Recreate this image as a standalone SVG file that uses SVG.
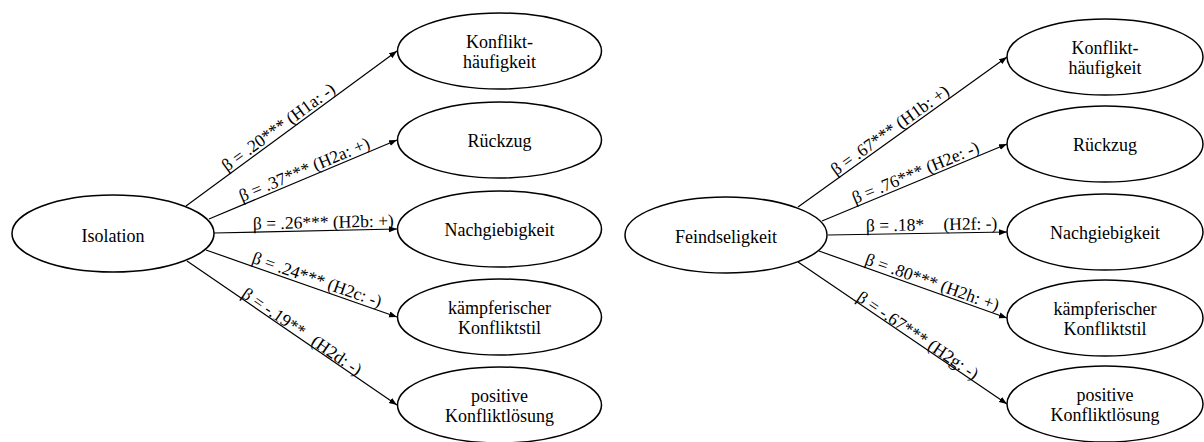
<svg xmlns="http://www.w3.org/2000/svg" width="1204" height="442" viewBox="0 0 1204 442">
<style>
.node ellipse{fill:#fff;stroke:#000;stroke-width:1.5}
.node text{font-size:18px;fill:#000;text-anchor:middle}
.edge line{stroke:#000;stroke-width:1.2;marker-end:url(#arr)}
.lbl{font-size:17.5px;fill:#000}
</style>
<defs>
<marker id="arr" markerUnits="userSpaceOnUse" markerWidth="9" markerHeight="7" refX="8" refY="3" orient="auto">
<path d="M0,0 L8,3 L0,6 z" fill="#000"/>
</marker>
</defs>
<rect width="1204" height="442" fill="#fff"/>
<g id="diagram" font-family="'Liberation Serif', 'Times New Roman', 'DejaVu Serif', serif">
<g id="connectors">
<g class="edge">
<line x1="186" y1="206" x2="397" y2="51"/>
<line x1="209" y1="219" x2="397" y2="140"/>
<line x1="214" y1="233" x2="397" y2="229"/>
<line x1="206" y1="250" x2="397" y2="317"/>
<line x1="187" y1="261" x2="397" y2="405"/>
<line x1="798" y1="207" x2="1007" y2="57"/>
<line x1="822" y1="221" x2="1007" y2="144"/>
<line x1="828" y1="235" x2="1007" y2="232"/>
<line x1="819" y1="251" x2="1007" y2="318"/>
<line x1="798" y1="262" x2="1007" y2="404"/>
</g>
<text class="lbl" font-family="Liberation Serif, serif" transform="translate(227,172) rotate(-36.3)">β = .20*** (H1a: -)</text>
<text class="lbl" font-family="Liberation Serif, serif" transform="translate(242,202) rotate(-22.8)">β = .37*** (H2a: +)</text>
<text class="lbl" font-family="Liberation Serif, serif" transform="translate(253,229.5) rotate(-1.25)">β = .26*** (H2b: +)</text>
<text class="lbl" font-family="Liberation Serif, serif" transform="translate(251,262.6) rotate(19.3)">β = .24*** (H2c: -)</text>
<text class="lbl" font-family="Liberation Serif, serif" transform="translate(240.6,296.5) rotate(34.4)">β = -.19** <tspan dx="7">(H2d: -)</tspan></text>
<text class="lbl" font-family="Liberation Serif, serif" transform="translate(836,176) rotate(-35.7)">β = .67*** (H1b: +)</text>
<text class="lbl" font-family="Liberation Serif, serif" transform="translate(855,204) rotate(-22.6)">β = .76*** (H2e: -)</text>
<text class="lbl" font-family="Liberation Serif, serif" transform="translate(866,231.4) rotate(-0.97)">β = .18* <tspan dx="15">(H2f: -)</tspan></text>
<text class="lbl" font-family="Liberation Serif, serif" transform="translate(864,264) rotate(19.6)">β = .80*** (H2h: +)</text>
<text class="lbl" font-family="Liberation Serif, serif" transform="translate(855.6,300) rotate(34.2)">β = -.67*** (H2g: -)</text>
</g>
<g id="isolation" class="node"><ellipse cx="113" cy="233.5" rx="101" ry="38.5"/><text x="113" y="242">Isolation</text></g>
<g id="l-konflikthaeufigkeit" class="node"><ellipse cx="499.5" cy="51" rx="102" ry="38"/><text x="499.5" y="47.5">Konflikt-</text><text x="499.5" y="68">häufigkeit</text></g>
<g id="l-rueckzug" class="node"><ellipse cx="499.5" cy="140" rx="102" ry="38"/><text x="499.5" y="147">Rückzug</text></g>
<g id="l-nachgiebigkeit" class="node"><ellipse cx="499.5" cy="229" rx="102" ry="38"/><text x="499.5" y="236">Nachgiebigkeit</text></g>
<g id="l-kaempferisch" class="node"><ellipse cx="499.5" cy="317" rx="102" ry="38"/><text x="499.5" y="313.5">kämpferischer</text><text x="499.5" y="334">Konfliktstil</text></g>
<g id="l-positiv" class="node"><ellipse cx="499.5" cy="405" rx="102" ry="38"/><text x="499.5" y="401.5">positive</text><text x="499.5" y="422">Konfliktlösung</text></g>
<g id="feindseligkeit" class="node"><ellipse cx="726" cy="235" rx="101" ry="38"/><text x="726" y="243">Feindseligkeit</text></g>
<g id="r-konflikthaeufigkeit" class="node"><ellipse cx="1105" cy="57" rx="98" ry="38"/><text x="1105" y="53.5">Konflikt-</text><text x="1105" y="74">häufigkeit</text></g>
<g id="r-rueckzug" class="node"><ellipse cx="1105" cy="144" rx="98" ry="38"/><text x="1105" y="151">Rückzug</text></g>
<g id="r-nachgiebigkeit" class="node"><ellipse cx="1105" cy="232" rx="98" ry="38"/><text x="1105" y="239">Nachgiebigkeit</text></g>
<g id="r-kaempferisch" class="node"><ellipse cx="1105" cy="318" rx="98" ry="38"/><text x="1105" y="314.5">kämpferischer</text><text x="1105" y="335">Konfliktstil</text></g>
<g id="r-positiv" class="node"><ellipse cx="1105" cy="404" rx="98" ry="38"/><text x="1105" y="400.5">positive</text><text x="1105" y="421">Konfliktlösung</text></g>
</g>
</svg>
